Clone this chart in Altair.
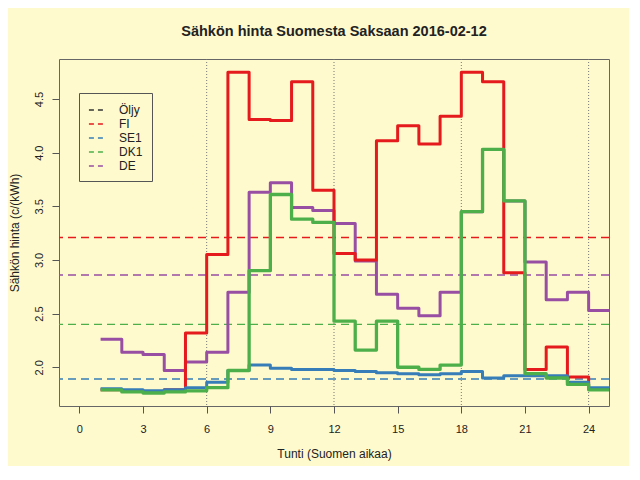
import altair as alt
import pandas as pd

# ---- data ----
hours = list(range(1, 25))
series_names = ["Öljy", "FI", "SE1", "DK1", "DE"]
series_colors = ["#333333", "#E41A1C", "#377EB8", "#4DAF4A", "#984EA3"]

fi = [1.79, 1.78, 1.77, 1.79, 2.32, 3.05, 4.75, 4.31, 4.30, 4.66, 3.65, 3.06,
      3.00, 4.11, 4.25, 4.08, 4.34, 4.75, 4.66, 2.88, 1.98, 2.19, 1.91, 1.80]
se1 = [1.80, 1.79, 1.78, 1.79, 1.81, 1.86, 1.97, 2.02, 1.99, 1.98, 1.98, 1.97,
       1.96, 1.95, 1.94, 1.93, 1.94, 1.96, 1.90, 1.92, 1.92, 1.92, 1.86, 1.81]
dk1 = [1.79, 1.77, 1.76, 1.77, 1.78, 1.81, 1.97, 2.90, 3.61, 3.38, 3.35, 2.43,
       2.16, 2.43, 2.00, 1.98, 2.02, 3.45, 4.03, 3.55, 1.94, 1.90, 1.84, 1.79]
de = [2.26, 2.14, 2.12, 1.97, 2.05, 2.14, 2.70, 3.63, 3.72, 3.49, 3.46, 3.34,
      2.99, 2.68, 2.55, 2.48, 2.70, 3.45, 4.03, 3.55, 2.98, 2.63, 2.70, 2.53]

avg_names = ["FI", "SE1", "DK1", "DE"]
avg_values = [3.21, 1.89, 2.40, 2.86]

x_ticks = [0, 3, 6, 9, 12, 15, 18, 21, 24]
y_ticks = [2.0, 2.5, 3.0, 3.5, 4.0, 4.5]
v_lines = [6, 12, 18, 24]

FONT = "Liberation Sans"

# ---- tables ----
draw_order = [("DE", de, 3), ("FI", fi, 3), ("SE1", se1, 3), ("DK1", dk1, 3.3)]
avg_df = pd.DataFrame({"series": avg_names, "avg": avg_values})
vl_df = pd.DataFrame({"hour": v_lines})

color_scale = alt.Scale(domain=series_names, range=series_colors)
legend = alt.Legend(
    title=None, orient="none", legendX=20, legendY=34,
    strokeColor="#555555", fillColor="#FFFACD", padding=9,
    symbolType="stroke", symbolDash=[5, 4], symbolStrokeWidth=1.5,
    symbolSize=200, labelFont=FONT, labelFontSize=12, labelColor="#222222",
    labelOffset=15, rowPadding=0,
)
color = alt.Color("series:N", scale=color_scale, legend=legend)

x_axis = alt.Axis(values=x_ticks, title="Tunti (Suomen aikaa)", grid=False,
                  domain=False, tickSize=7, tickColor="#555555",
                  labelFont=FONT, labelFontSize=11, labelColor="#222222",
                  labelPadding=10, titleFont=FONT, titleFontSize=12,
                  titleFontWeight="normal", titleColor="#222222", titlePadding=14)
y_axis = alt.Axis(values=y_ticks, title="Sähkön hinta (c/(kWh)", grid=False,
                  domain=False, tickSize=7, tickColor="#555555", format=".1f",
                  labelAngle=270, labelAlign="center", labelBaseline="bottom",
                  labelFont=FONT, labelFontSize=11, labelColor="#222222",
                  labelPadding=8, titleFont=FONT, titleFontSize=12,
                  titleFontWeight="normal", titleColor="#222222", titlePadding=12)

x_scale = alt.Scale(domain=[-0.96, 24.96], nice=False, zero=False)
y_scale = alt.Scale(domain=[1.639, 4.873], nice=False, zero=False)

vlines = alt.Chart(vl_df).mark_rule(color="#777777", strokeDash=[1, 2], strokeWidth=1).encode(
    x=alt.X("hour:Q", scale=x_scale, axis=x_axis)
)
avg_rules = alt.Chart(avg_df).mark_rule(strokeDash=[8, 5], strokeWidth=1.4).encode(
    y=alt.Y("avg:Q", scale=y_scale, axis=y_axis),
    color=color,
)

layers = [vlines, avg_rules]
for name, vals, w in draw_order:
    d = pd.DataFrame({"hour": hours + [25], "price": vals + [vals[-1]], "series": name})
    layers.append(
        alt.Chart(d).mark_line(interpolate="step-after", strokeWidth=w, clip=True,
                               strokeJoin="round").encode(
            x=alt.X("hour:Q", scale=x_scale, axis=x_axis),
            y=alt.Y("price:Q", scale=y_scale, axis=y_axis),
            color=color,
        )
    )

chart = alt.layer(*layers).properties(
    width=550, height=347,
    title=alt.Title("Sähkön hinta Suomesta Saksaan 2016-02-12", font=FONT,
                    fontSize=14.5, fontWeight="bold", color="#222222",
                    anchor="middle", offset=19),
    autosize=alt.AutoSizeParams(type="none"),
    padding={"left": 51, "top": 51, "right": 20, "bottom": 60},
).configure(background="#FFFACD").configure_view(stroke="#666666", strokeWidth=1)

chart.save("out.html", embed_options={"renderer": "svg", "actions": False})
